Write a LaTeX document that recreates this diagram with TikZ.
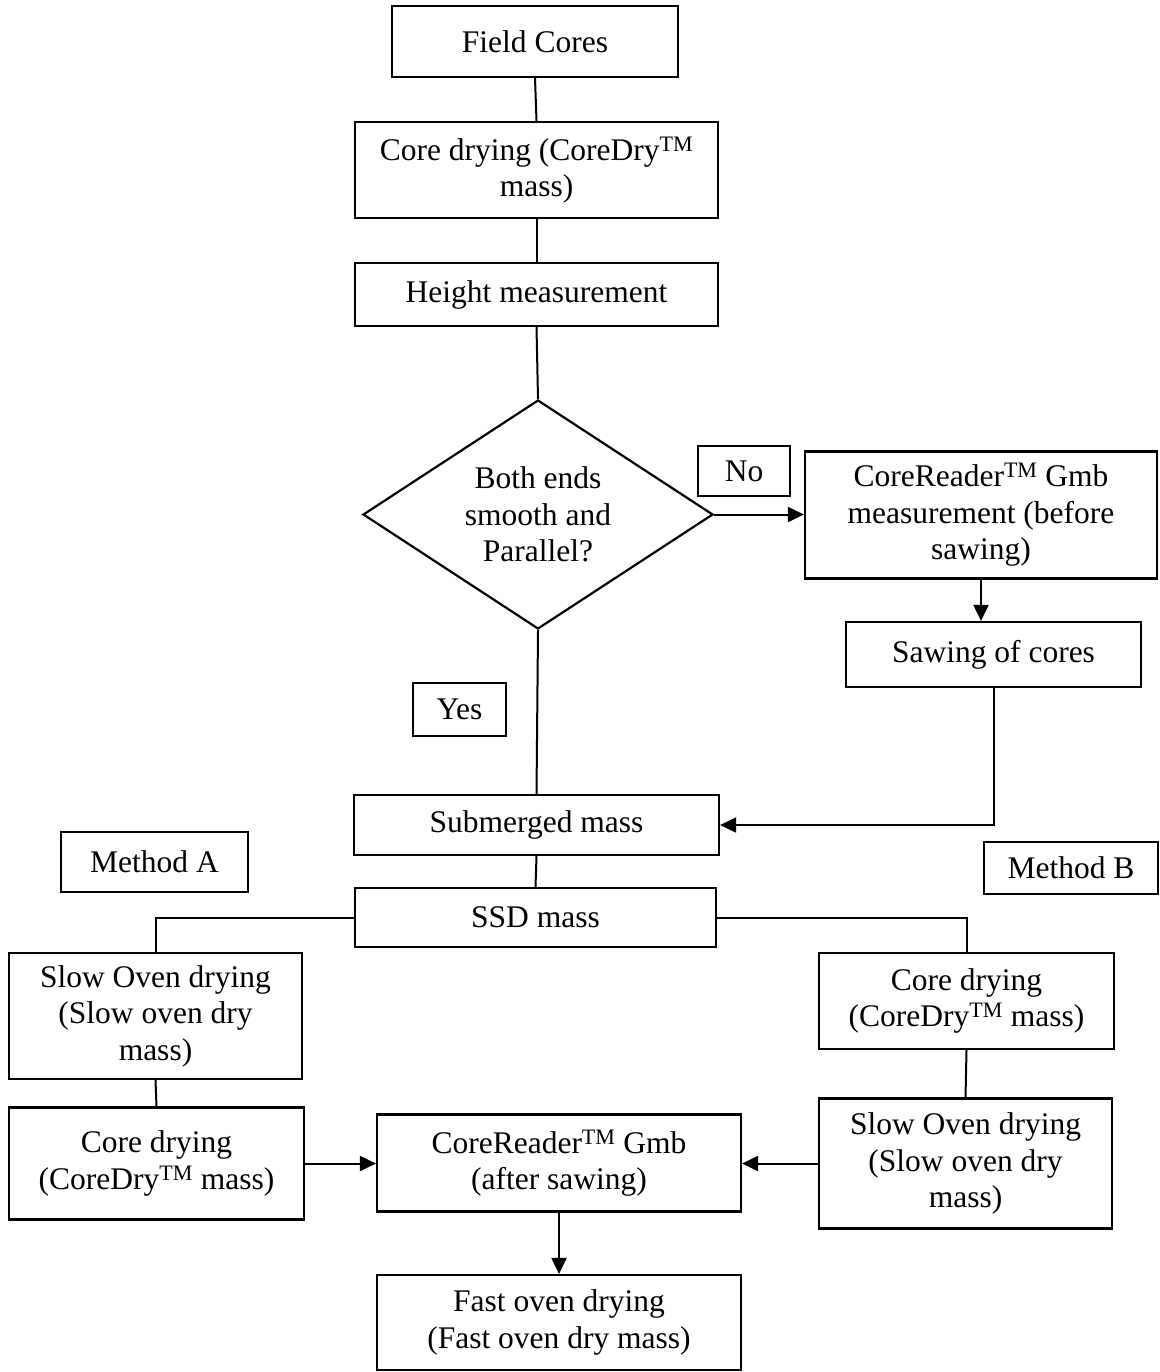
\documentclass[tikz,border=0pt]{standalone}
\usepackage{fontspec}
\setmainfont{Liberation Serif}
\usetikzlibrary{shapes.geometric,arrows.meta}
\begin{document}
\begin{tikzpicture}[x=1pt,y=-1pt,
  every node/.style={font=\fontsize{31.5}{36.5}\selectfont},
  bx/.style={draw, line width=2.2pt, inner sep=0pt, align=center},
  sz/.style 2 args={minimum width=#1pt, minimum height=#2pt},
  ln/.style={line width=2pt},
  ar/.style={line width=2pt, -{Triangle[length=16pt,width=15pt]}}
]
\useasboundingbox (0,0) rectangle (1159,1372);

\node[bx, sz={286}{71}] (fc) at (535,41.5) {Field Cores};
\node[bx, sz={363}{96}] (cd1) at (536.5,170) {Core drying (CoreDry\textsuperscript{TM}\\mass)};
\node[bx, sz={363}{63}] (hm) at (536.5,294.5) {Height measurement};
\node[draw, diamond, line width=2.2pt, inner sep=0pt, aspect=1.53, sz={350}{229}] (dec) at (538,514.5) {};
\node[align=center] (dectxt) at (dec.center) {Both ends\\smooth and\\Parallel?};
\node[bx, sz={92}{50}] (no) at (744,471) {No};
\node[bx, sz={352}{127}] (crb) at (981,515) {CoreReader\textsuperscript{TM} Gmb\\measurement (before\\sawing)};
\node[bx, sz={295}{65}] (saw) at (993.5,654.5) {Sawing of cores};
\node[bx, sz={93}{53}] (yes) at (459.5,709.5) {Yes};
\node[bx, sz={365}{60}] (sub) at (536.5,825) {Submerged mass};
\node[bx, sz={187}{60}] (ma) at (154.5,862) {Method A};
\node[bx, sz={174}{52}] (mb) at (1071,868) {Method B};
\node[bx, sz={361}{59}] (ssd) at (535.5,917.5) {SSD mass};
\node[bx, sz={293}{126}] (slowA) at (155.5,1016) {Slow Oven drying\\(Slow oven dry\\mass)};
\node[bx, sz={295}{96}] (cdB) at (966.5,1001) {Core drying\\(CoreDry\textsuperscript{TM} mass)};
\node[bx, sz={295}{112}] (cdA) at (156.5,1163.5) {Core drying\\(CoreDry\textsuperscript{TM} mass)};
\node[bx, sz={364}{97}] (cra) at (559,1163) {CoreReader\textsuperscript{TM} Gmb\\(after sawing)};
\node[bx, sz={293}{130}] (slowB) at (965.5,1163.5) {Slow Oven drying\\(Slow oven dry\\mass)};
\node[bx, sz={364}{95}] (fast) at (559,1322.5) {Fast oven drying\\(Fast oven dry mass)};

\draw[ln] (fc.south) -- (cd1.north);
\draw[ln] (cd1.south) -- (hm.north);
\draw[ln] (hm.south) -- (dec.north);
\draw[ar] (dec.east) -- (dec.east -| crb.west);
\draw[ar] (crb.south) -- (crb.south |- saw.north);
\draw[ar] (saw.south) |- (sub.east);
\draw[ln] (dec.south) -- (sub.north);
\draw[ln] (sub.south) -- (ssd.north);
\draw[ln] (ssd.west) -| (slowA.north);
\draw[ln] (ssd.east) -| (cdB.north);
\draw[ln] (slowA.south) -- (cdA.north);
\draw[ln] (cdB.south) -- (slowB.north);
\draw[ar] (cdA.east) -- (cdA.east -| cra.west);
\draw[ar] (slowB.west) -- (slowB.west -| cra.east);
\draw[ar] (cra.south) -- (fast.north);
\end{tikzpicture}
\end{document}
